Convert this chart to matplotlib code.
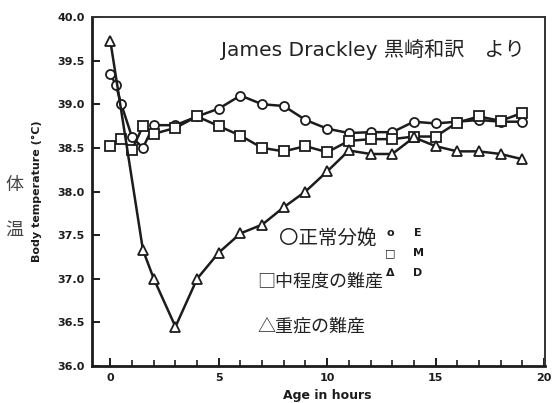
import numpy as np
import matplotlib.pyplot as plt
from matplotlib.ticker import MultipleLocator

# calf body temperature after calving (E = eutocia, M = mild, D = severe dystocia)
hours_e = [0, 0.25, 0.5, 1, 1.5, 2, 3, 4, 5, 6, 7, 8, 9, 10, 11, 12, 13, 14, 15, 16, 17, 18, 19]
temp_e = [39.35, 39.22, 39.0, 38.62, 38.5, 38.76, 38.76, 38.86, 38.95, 39.1, 39.0, 38.98, 38.82,
          38.72, 38.67, 38.68, 38.68, 38.8, 38.78, 38.8, 38.82, 38.8, 38.8]

hours_m = [0, 0.5, 1, 1.5, 2, 3, 4, 5, 6, 7, 8, 9, 10, 11, 12, 13, 14, 15, 16, 17, 18, 19]
temp_m = [38.52, 38.6, 38.48, 38.75, 38.66, 38.73, 38.86, 38.75, 38.64, 38.5, 38.46, 38.52,
          38.45, 38.58, 38.6, 38.6, 38.63, 38.63, 38.79, 38.86, 38.81, 38.9]

hours_d = [0, 1.5, 2, 3, 4, 5, 6, 7, 8, 9, 10, 11, 12, 13, 14, 15, 16, 17, 18, 19]
temp_d = [39.72, 37.33, 37.0, 36.45, 37.0, 37.3, 37.52, 37.62, 37.82, 38.0, 38.23, 38.47,
          38.43, 38.43, 38.62, 38.52, 38.46, 38.46, 38.43, 38.37]

x_ticks = [0, 5, 10, 15, 20]
y_ticks = [36.0, 36.5, 37.0, 37.5, 38.0, 38.5, 39.0, 39.5, 40.0]

jp = ['Noto Sans CJK JP', 'DejaVu Sans']
latin_jp = ['DejaVu Sans', 'Noto Sans CJK JP']
ink = '#1c1c1c'

fig = plt.figure(figsize=(5.53, 4.03), dpi=100)
ax = fig.add_axes([92 / 553, 1 - 366 / 403, (545 - 92) / 553, (366 - 17) / 403])

style = dict(color=ink, lw=1.8, markersize=6.5, markerfacecolor='white',
             markeredgecolor=ink, markeredgewidth=1.3)
ax.plot(hours_e, temp_e, marker='o', **style)
ax.plot(hours_m, temp_m, marker='s', **style)
ax.plot(hours_d, temp_d, marker='^', **style)

ax.set_xlim(-0.85, 20.05)
ax.set_ylim(36.0, 40.0)
ax.set_xticks(x_ticks)
ax.set_yticks(y_ticks)
ax.xaxis.set_minor_locator(MultipleLocator(1))
ax.set_xticklabels([str(t) for t in x_ticks])
ax.set_yticklabels([f'{t:.1f}' for t in y_ticks])
ax.tick_params(axis='both', which='major', direction='in', length=6, width=1.4,
               color=ink, labelsize=8, pad=5)
ax.tick_params(axis='x', which='minor', direction='in', length=4, width=1.2, color=ink)
for lab in ax.get_xticklabels() + ax.get_yticklabels():
    lab.set_fontweight('bold')
    lab.set_color(ink)

for side in ['left', 'bottom']:
    ax.spines[side].set_linewidth(2.0)
    ax.spines[side].set_color(ink)
for side in ['top', 'right']:
    ax.spines[side].set_linewidth(1.4)
    ax.spines[side].set_color('#333333')

ax.set_xlabel('Age in hours', fontsize=9, fontweight='bold', color=ink, labelpad=4)
ax.xaxis.set_label_coords(0.52, -0.065)
ax.set_ylabel('Body temperature (°C)', fontsize=8, fontweight='bold', color=ink, labelpad=11)

# Japanese labels
fig.text(14 / 553, 1 - 185 / 403, '体', family=jp, fontsize=13, color='#444444',
         ha='center', va='center')
fig.text(14 / 553, 1 - 230 / 403, '温', family=jp, fontsize=13, color='#444444',
         ha='center', va='center')
fig.text(525 / 553, 1 - 50 / 403, 'James Drackley 黒崎和訳\u3000より', family=latin_jp,
         fontsize=14.5, color='#222222', ha='right', va='center')
fig.text(279 / 553, 1 - 238 / 403, '〇正常分娩', family=jp, fontsize=14,
         color='#222222', ha='left', va='center')
fig.text(257 / 553, 1 - 282 / 403, '□中程度の難産', family=jp, fontsize=13,
         color='#222222', ha='left', va='center')
fig.text(257 / 553, 1 - 326 / 403, '△重症の難産', family=jp, fontsize=13,
         color='#222222', ha='left', va='center')

# small symbol key
for sym, name, y in [('o', 'E', 233), ('□', 'M', 253), ('Δ', 'D', 273)]:
    fig.text(390 / 553, 1 - y / 403, sym, fontsize=8, fontweight='bold', color=ink,
             ha='center', va='center')
    fig.text(418 / 553, 1 - y / 403, name, fontsize=8, fontweight='bold', color=ink,
             ha='center', va='center')

fig.savefig('out.png', dpi=100)
